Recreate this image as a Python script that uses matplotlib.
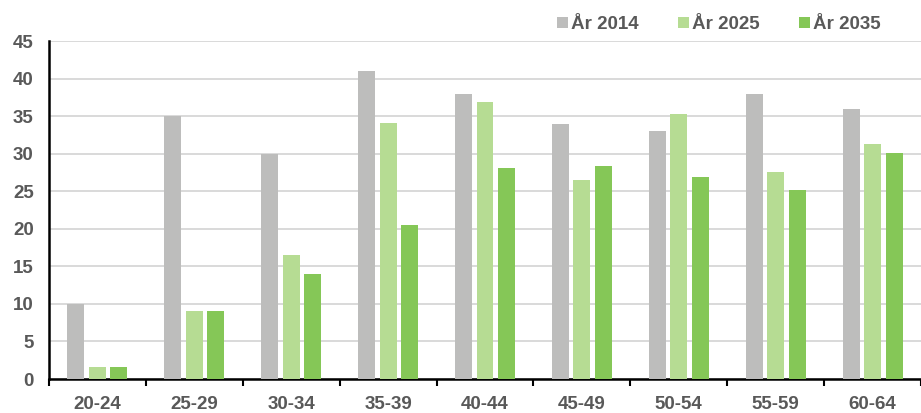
import matplotlib
matplotlib.use("Agg")
import matplotlib.pyplot as plt
import numpy as np

categories = ["20-24", "25-29", "30-34", "35-39", "40-44", "45-49", "50-54", "55-59", "60-64"]
series_names = ["År 2014", "År 2025", "År 2035"]
values_2014 = [10, 35, 30, 41, 38, 34, 33, 38, 36]
values_2025 = [1.6, 9, 16.5, 34.1, 36.9, 26.5, 35.3, 27.6, 31.3]
values_2035 = [1.6, 9, 14, 20.5, 28.1, 28.4, 26.9, 25.2, 30.1]
y_ticks = [0, 5, 10, 15, 20, 25, 30, 35, 40, 45]

colors = ["#BDBDBC", "#B6DC93", "#85C757"]
text_color = "#595959"
fs = 13.5

plt.rcParams['font.family'] = ['Liberation Sans', 'DejaVu Sans']

fig = plt.figure(figsize=(9.21, 4.13), dpi=100)
ax = fig.add_axes([0.0532, 0.0823, 0.9468, 0.8184])

x = np.arange(len(categories))
width = 0.175
offset = 0.222
for i, (vals, name) in enumerate(zip([values_2014, values_2025, values_2035], series_names)):
    ax.bar(x + (i - 1) * offset, vals, width, color=colors[i], label=name, zorder=3)

ax.set_xlim(-0.5, len(categories) - 0.5)
ax.set_ylim(0, 45)
ax.set_yticks(y_ticks)
ax.set_yticklabels([str(t) for t in y_ticks])
ax.yaxis.grid(True, color="#D9D9D9", linewidth=1.4, zorder=0)
ax.set_axisbelow(True)

ax.set_xticks(x)
ax.set_xticklabels(categories)
ax.set_xticks(np.arange(-0.5, len(categories) + 0.5, 1), minor=True)
ax.tick_params(axis='x', which='major', length=0, pad=12)
ax.tick_params(axis='x', which='minor', length=5, width=1.5, direction='out', color='black')
ax.tick_params(axis='y', length=0, pad=11)

for lab in ax.get_xticklabels() + ax.get_yticklabels():
    lab.set_fontsize(fs)
    lab.set_fontweight('bold')
    lab.set_color(text_color)

for s in ['top', 'right']:
    ax.spines[s].set_visible(False)
ax.spines['left'].set_linewidth(1.8)
ax.spines['bottom'].set_linewidth(1.8)
ax.spines['left'].set_color('black')
ax.spines['bottom'].set_color('black')

leg = ax.legend(loc='center right', bbox_to_anchor=(0.975, 0.94), bbox_transform=fig.transFigure,
                ncol=3, frameon=False, handlelength=0.55, handleheight=0.55, handletextpad=0.2,
                columnspacing=2.1, prop={'size': fs, 'weight': 'bold'})
for t in leg.get_texts():
    t.set_color(text_color)

fig.savefig("out.png", dpi=100)
